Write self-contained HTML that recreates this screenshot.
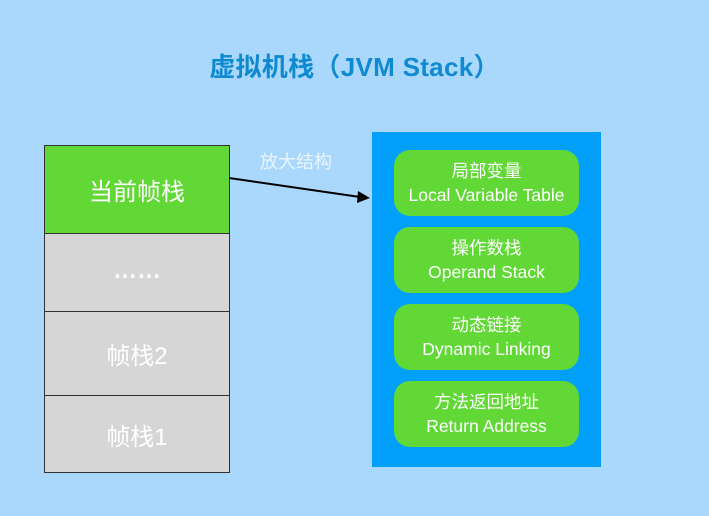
<!DOCTYPE html>
<html><head><meta charset="utf-8"><style>
*{margin:0;padding:0;box-sizing:border-box}
body{width:709px;height:516px;background:#a9d8fc;position:relative;overflow:hidden;font-family:"Liberation Sans","Noto Sans CJK SC",sans-serif}
.a{position:absolute}
.title{left:0;width:709px;top:47px;text-align:center;font-size:26px;font-weight:bold;color:#0f8ad0;letter-spacing:0.3px}
.f{left:44px;width:186px;border:1.5px solid #333;display:flex;align-items:center;justify-content:center;color:#fff;font-size:24px}
.g{background:#d6d6d6}
.panel{left:372px;top:132px;width:229px;height:335px;background:#03a0fb}
.b{left:394px;width:185px;height:66px;background:#61d836;border-radius:16px;color:#fff;text-align:center;font-size:17.5px;line-height:24px;padding-top:9px}
</style></head><body>
<div class="a title">虚拟机栈（JVM Stack）</div>
<div class="a f" style="top:145px;height:89px;background:#61d836">当前帧栈</div>
<div class="a f g" style="top:233px;height:79px;padding-bottom:4px;font-weight:bold">……</div>
<div class="a f g" style="top:311px;height:85px">帧栈2</div>
<div class="a f g" style="top:395px;height:78px">帧栈1</div>
<div class="a" style="left:260px;top:148px;color:#eaf5ff;font-size:18px">放大结构</div>
<svg class="a" style="left:0;top:0" width="709" height="516"><line x1="229" y1="178" x2="360" y2="197" stroke="#000" stroke-width="2"/><polygon points="370,198 358,191 357,203" fill="#000"/></svg>
<div class="a panel"></div>
<div class="a b" style="top:150px">局部变量<br>Local Variable Table</div>
<div class="a b" style="top:227px">操作数栈<br>Operand Stack</div>
<div class="a b" style="top:304px">动态链接<br>Dynamic Linking</div>
<div class="a b" style="top:381px">方法返回地址<br>Return Address</div>
</body></html>
